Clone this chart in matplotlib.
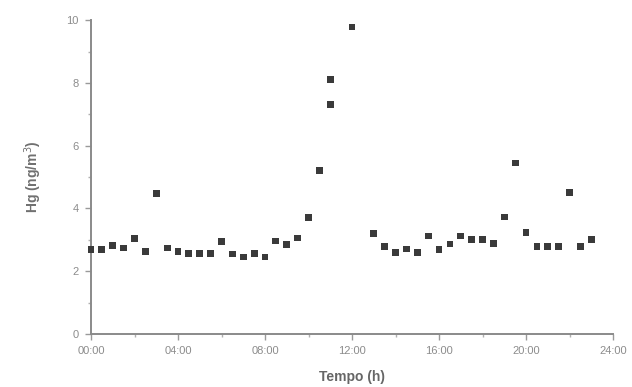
import matplotlib
matplotlib.use('Agg')
from matplotlib import pyplot as plt
from matplotlib.ticker import MultipleLocator

# hours of day and Hg concentration (ng/m3)
hours = [0.0, 0.5, 1.0, 1.5, 2.0, 2.5, 3.0, 3.5, 4.0, 4.5, 5.0, 5.5,
         6.0, 6.5, 7.0, 7.5, 8.0, 8.5, 9.0, 9.5, 10.0, 10.5, 11.0, 11.0,
         12.0, 13.0, 13.5, 14.0, 14.5, 15.0, 15.5, 16.0, 16.5, 17.0, 17.5,
         18.0, 18.5, 19.0, 19.5, 20.0, 20.5, 21.0, 21.5, 22.0, 22.5, 23.0]
hg = [2.7, 2.7, 2.82, 2.74, 3.04, 2.63, 4.47, 2.74, 2.63, 2.56, 2.56, 2.56,
      2.95, 2.55, 2.45, 2.57, 2.45, 2.96, 2.86, 3.06, 3.7, 5.21, 8.1, 7.32,
      9.78, 3.2, 2.79, 2.6, 2.71, 2.6, 3.12, 2.7, 2.87, 3.12, 3.02,
      3.02, 2.89, 3.73, 5.45, 3.23, 2.79, 2.79, 2.79, 4.52, 2.79, 3.02]

xticks = [0, 4, 8, 12, 16, 20, 24]
xticklabels = ['00:00', '04:00', '08:00', '12:00', '16:00', '20:00', '24:00']
yticks = [0, 2, 4, 6, 8, 10]

plt.rcParams['font.family'] = ['Liberation Sans', 'DejaVu Sans']

fig = plt.figure(figsize=(6.32, 3.87), dpi=100)
ax = fig.add_axes([0.144, 0.137, 0.826, 0.811])

ax.scatter(hours, hg, marker='s', s=24, color='#3a3a3a', edgecolors='none',
           clip_on=False, zorder=3)

ax.set_xlim(0, 24)
ax.set_ylim(0, 10)
ax.set_xticks(xticks)
ax.set_xticklabels(xticklabels)
ax.set_yticks(yticks)
ax.xaxis.set_minor_locator(MultipleLocator(2))
ax.yaxis.set_minor_locator(MultipleLocator(1))

for side in ['top', 'right']:
    ax.spines[side].set_visible(False)
for side in ['left', 'bottom']:
    ax.spines[side].set_color('#8a8a8a')
    ax.spines[side].set_linewidth(1.4)

ax.tick_params(which='major', direction='out', length=4, width=1, color='#9a9a9a',
               labelcolor='#8c8c8c', labelsize=8, pad=5)
ax.tick_params(which='minor', direction='out', length=2.5, width=1, color='#b0b0b0')

ax.set_xlabel('Tempo (h)', fontsize=10, fontweight='bold', color='#666666', labelpad=10)
ax.set_ylabel('Hg (ng/m$^3$)', fontsize=10, fontweight='bold', color='#707070', labelpad=16)

fig.savefig('out.png', dpi=100)
